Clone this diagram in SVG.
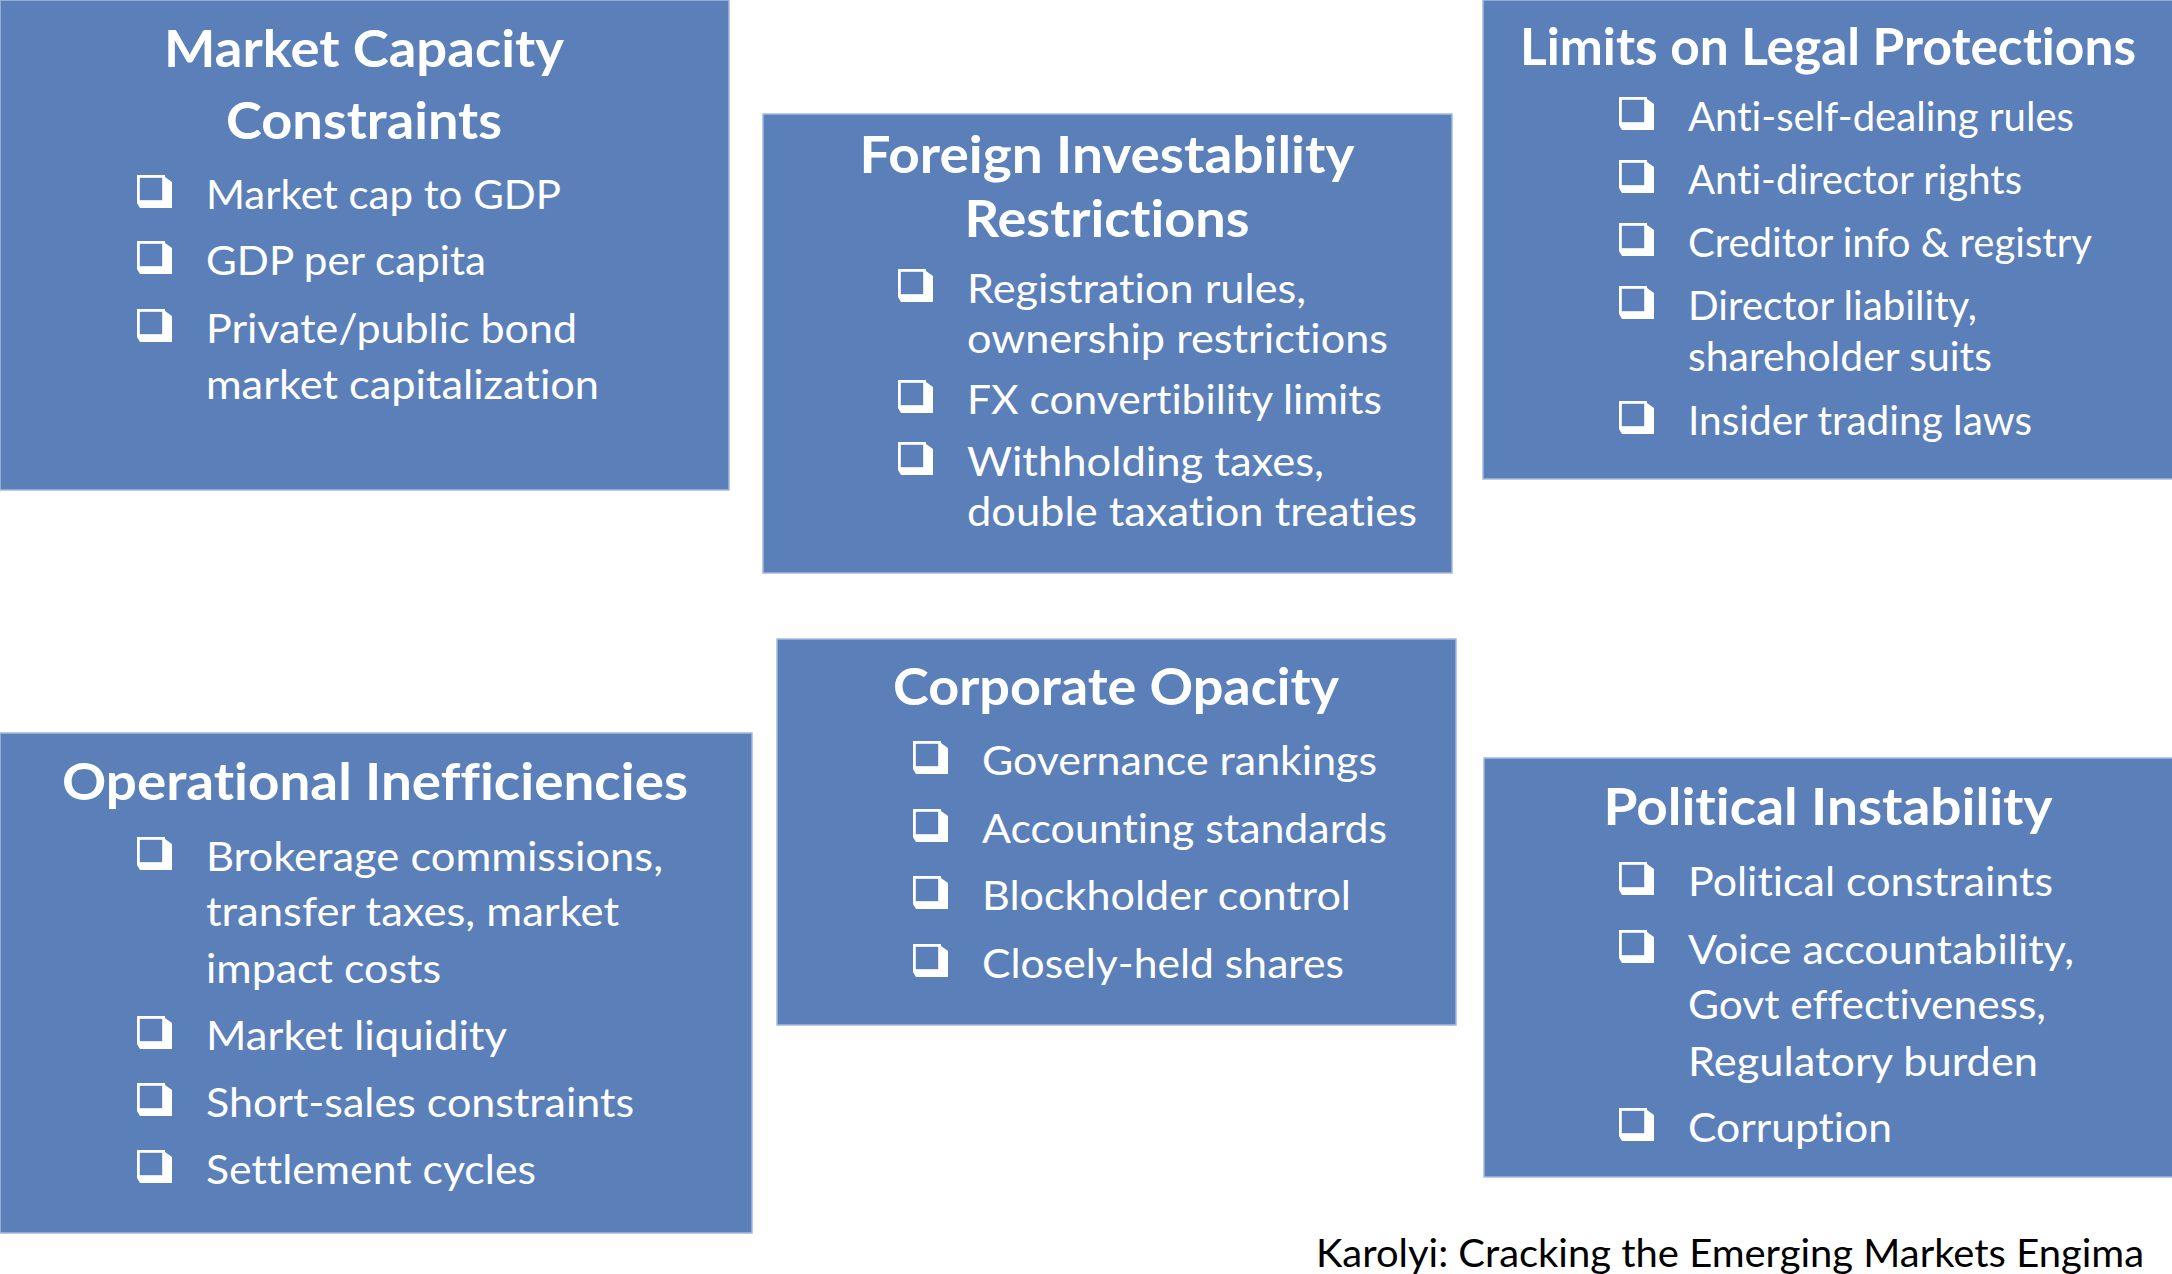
<svg xmlns="http://www.w3.org/2000/svg" xmlns:xlink="http://www.w3.org/1999/xlink" width="2172" height="1274" viewBox="0 0 2172 1274">
<style>
.box{fill:#5B80B9;stroke:#A3B9DF;stroke-width:1.5}
text{font-variant-ligatures:none}
.t{font-family:Lato,"Open Sans","Liberation Sans",sans-serif;font-weight:700;font-size:52px;fill:#fff;text-anchor:middle}
.i{font-family:Lato,"Open Sans","Liberation Sans",sans-serif;font-size:41px;fill:#fff}
.cap{font-family:Lato,"Open Sans","Liberation Sans",sans-serif;font-size:39px;fill:#000}
</style>
<defs>
<g id="cb">
<rect x="1.4" y="1.4" width="25.2" height="25.2" fill="none" stroke="#fff" stroke-width="2.8"/>
<path d="M28,2 L35,7 L35,33 L3,33 L0,28 L28,28 Z" fill="#fff"/>
</g>
</defs>
<rect width="2172" height="1274" fill="#fff"/>

<g id="market-capacity">
<rect class="box" x="0" y="0" width="729" height="490"/>
<text class="t" x="364" y="67" textLength="400" lengthAdjust="spacingAndGlyphs">Market Capacity</text>
<text class="t" x="364" y="139" textLength="276" lengthAdjust="spacingAndGlyphs">Constraints</text>
<use xlink:href="#cb" x="137" y="175"/>
<text class="i" x="206" y="209" textLength="355" lengthAdjust="spacingAndGlyphs">Market cap to GDP</text>
<use xlink:href="#cb" x="137" y="241"/>
<text class="i" x="206" y="275" textLength="280" lengthAdjust="spacingAndGlyphs">GDP per capita</text>
<use xlink:href="#cb" x="137" y="309"/>
<text class="i" x="206" y="343" textLength="371" lengthAdjust="spacingAndGlyphs">Private/public bond</text>
<text class="i" x="206" y="399" textLength="393" lengthAdjust="spacingAndGlyphs">market capitalization</text>
</g>

<g id="foreign-investability">
<rect class="box" x="763" y="114" width="689" height="459"/>
<text class="t" x="1107" y="173" textLength="495" lengthAdjust="spacingAndGlyphs">Foreign Investability</text>
<text class="t" x="1107" y="237" textLength="285" lengthAdjust="spacingAndGlyphs">Restrictions</text>
<use xlink:href="#cb" x="898" y="269"/>
<text class="i" x="967" y="303" textLength="339" lengthAdjust="spacingAndGlyphs">Registration rules,</text>
<text class="i" x="967" y="353" textLength="421" lengthAdjust="spacingAndGlyphs">ownership restrictions</text>
<use xlink:href="#cb" x="898" y="380"/>
<text class="i" x="967" y="414" textLength="415" lengthAdjust="spacingAndGlyphs">FX convertibility limits</text>
<use xlink:href="#cb" x="898" y="442"/>
<text class="i" x="967" y="476" textLength="357" lengthAdjust="spacingAndGlyphs">Withholding taxes,</text>
<text class="i" x="967" y="526" textLength="450" lengthAdjust="spacingAndGlyphs">double taxation treaties</text>
</g>

<g id="legal-protections">
<rect class="box" x="1483" y="0" width="690" height="479"/>
<text class="t" x="1828" y="65" textLength="616" lengthAdjust="spacingAndGlyphs">Limits on Legal Protections</text>
<use xlink:href="#cb" x="1619" y="97"/>
<text class="i" x="1688" y="131" textLength="386" lengthAdjust="spacingAndGlyphs">Anti-self-dealing rules</text>
<use xlink:href="#cb" x="1619" y="160"/>
<text class="i" x="1688" y="194" textLength="334" lengthAdjust="spacingAndGlyphs">Anti-director rights</text>
<use xlink:href="#cb" x="1619" y="223"/>
<text class="i" x="1688" y="257" textLength="404" lengthAdjust="spacingAndGlyphs">Creditor info &amp; registry</text>
<use xlink:href="#cb" x="1619" y="286"/>
<text class="i" x="1688" y="320" textLength="289" lengthAdjust="spacingAndGlyphs">Director liability,</text>
<text class="i" x="1688" y="371" textLength="304" lengthAdjust="spacingAndGlyphs">shareholder suits</text>
<use xlink:href="#cb" x="1619" y="401"/>
<text class="i" x="1688" y="435" textLength="344" lengthAdjust="spacingAndGlyphs">Insider trading laws</text>
</g>

<g id="operational-inefficiencies">
<rect class="box" x="0" y="733" width="752" height="500"/>
<text class="t" x="375" y="800" textLength="626" lengthAdjust="spacingAndGlyphs">Operational Inefficiencies</text>
<use xlink:href="#cb" x="137" y="837"/>
<text class="i" x="206" y="871" textLength="457" lengthAdjust="spacingAndGlyphs">Brokerage commissions,</text>
<text class="i" x="206" y="926" textLength="413" lengthAdjust="spacingAndGlyphs">transfer taxes, market</text>
<text class="i" x="206" y="983" textLength="235" lengthAdjust="spacingAndGlyphs">impact costs</text>
<use xlink:href="#cb" x="137" y="1016"/>
<text class="i" x="206" y="1050" textLength="301" lengthAdjust="spacingAndGlyphs">Market liquidity</text>
<use xlink:href="#cb" x="137" y="1083"/>
<text class="i" x="206" y="1117" textLength="428" lengthAdjust="spacingAndGlyphs">Short-sales constraints</text>
<use xlink:href="#cb" x="137" y="1150"/>
<text class="i" x="206" y="1184" textLength="330" lengthAdjust="spacingAndGlyphs">Settlement cycles</text>
</g>

<g id="corporate-opacity">
<rect class="box" x="777" y="639" width="679" height="386"/>
<text class="t" x="1116" y="705" textLength="446" lengthAdjust="spacingAndGlyphs">Corporate Opacity</text>
<use xlink:href="#cb" x="913" y="741"/>
<text class="i" x="982" y="775" textLength="395" lengthAdjust="spacingAndGlyphs">Governance rankings</text>
<use xlink:href="#cb" x="913" y="809"/>
<text class="i" x="982" y="843" textLength="405" lengthAdjust="spacingAndGlyphs">Accounting standards</text>
<use xlink:href="#cb" x="913" y="876"/>
<text class="i" x="982" y="910" textLength="369" lengthAdjust="spacingAndGlyphs">Blockholder control</text>
<use xlink:href="#cb" x="913" y="944"/>
<text class="i" x="982" y="978" textLength="362" lengthAdjust="spacingAndGlyphs">Closely-held shares</text>
</g>

<g id="political-instability">
<rect class="box" x="1484" y="758" width="689" height="419"/>
<text class="t" x="1828" y="825" textLength="449" lengthAdjust="spacingAndGlyphs">Political Instability</text>
<use xlink:href="#cb" x="1619" y="862"/>
<text class="i" x="1688" y="896" textLength="365" lengthAdjust="spacingAndGlyphs">Political constraints</text>
<use xlink:href="#cb" x="1619" y="930"/>
<text class="i" x="1688" y="964" textLength="386" lengthAdjust="spacingAndGlyphs">Voice accountability,</text>
<text class="i" x="1688" y="1019" textLength="358" lengthAdjust="spacingAndGlyphs">Govt effectiveness,</text>
<text class="i" x="1688" y="1076" textLength="350" lengthAdjust="spacingAndGlyphs">Regulatory burden</text>
<use xlink:href="#cb" x="1619" y="1108"/>
<text class="i" x="1688" y="1142" textLength="204" lengthAdjust="spacingAndGlyphs">Corruption</text>
</g>

<g id="caption">
<text class="cap" x="1316" y="1267" textLength="828" lengthAdjust="spacingAndGlyphs">Karolyi: Cracking the Emerging Markets Engima</text>
</g>
</svg>
